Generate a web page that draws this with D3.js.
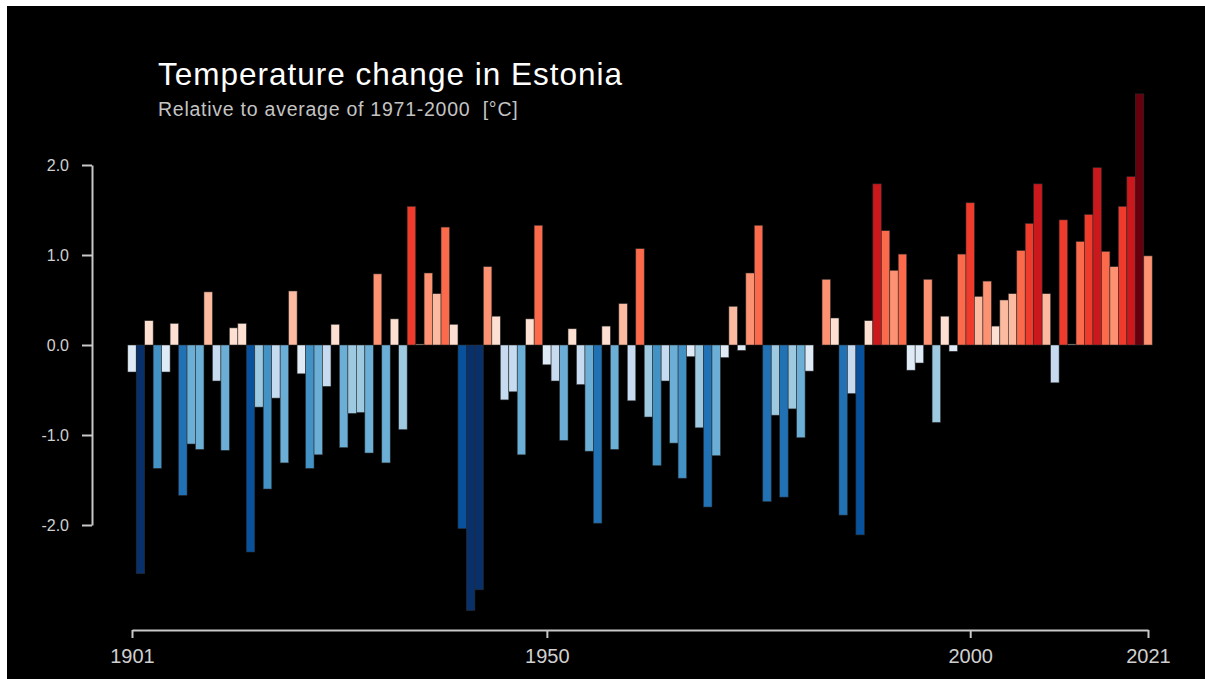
<!DOCTYPE html>
<html>
<head>
<meta charset="utf-8">
<script src="https://cdn.jsdelivr.net/npm/d3@7"></script>
<style>
  html, body { margin: 0; padding: 0; background: #ffffff; }
  svg { display: block; }
  text { font-family: "Liberation Sans", Arial, Helvetica, sans-serif; }
</style>
</head>
<body>
<svg id="chart" width="1205" height="679"></svg>
<script>
// ---- data ----
const firstYear = 1901;
const lastYear = 2021;
const years = d3.range(firstYear, lastYear + 1);
const anomalies = [
  -0.30, -2.54, 0.27, -1.37, -0.30, 0.24, -1.67, -1.10, -1.16, 0.59,   // 1901-1910
  -0.40, -1.17, 0.19, 0.24, -2.30, -0.69, -1.60, -0.59, -1.31, 0.60,   // 1911-1920
  -0.32, -1.37, -1.22, -0.46, 0.23, -1.14, -0.76, -0.75, -1.20, 0.79,  // 1921-1930
  -1.31, 0.29, -0.94, 1.54, 0.01, 0.80, 0.57, 1.31, 0.23, -2.04,       // 1931-1940
  -2.95, -2.72, 0.87, 0.32, -0.61, -0.52, -1.22, 0.29, 1.33, -0.22,    // 1941-1950
  -0.40, -1.06, 0.18, -0.44, -1.18, -1.98, 0.21, -1.16, 0.46, -0.62,   // 1951-1960
  1.07, -0.80, -1.34, -0.40, -1.09, -1.48, -0.13, -0.92, -1.80, -1.23, // 1961-1970
  -0.14, 0.43, -0.06, 0.80, 1.33, -1.74, -0.78, -1.69, -0.71, -1.03,   // 1971-1980
  -0.29, 0.00, 0.73, 0.30, -1.89, -0.54, -2.11, 0.27, 1.79, 1.27,      // 1981-1990
  0.83, 1.01, -0.28, -0.20, 0.73, -0.86, 0.32, -0.07, 1.01, 1.58,      // 1991-2000
  0.54, 0.71, 0.21, 0.50, 0.57, 1.05, 1.35, 1.79, 0.57, -0.42,         // 2001-2010
  1.39, 0.01, 1.15, 1.45, 1.97, 1.04, 0.87, 1.54, 1.87, 2.79,          // 2011-2020
  0.99                                                                 // 2021
];
const xTickYears = [1901, 1950, 2000, 2021];
const yTickValues = [-2, -1, 0, 1, 2];
const titleText = "Temperature change in Estonia";
const subtitleText = "Relative to average of 1971-2000  [°C]";

// colour classes (steps of 1/3 °C)
const colorThresholds = [-7/3, -2, -5/3, -4/3, -1, -2/3, -1/3, 0, 1/3, 2/3, 1, 4/3, 5/3, 2, 7/3];
const palette = ["#08306b", "#08519c", "#2171b5", "#4292c6", "#6baed6", "#9ecae1", "#c6dbef", "#deebf7",
                 "#fee0d2", "#fcbba1", "#fc9272", "#fb6a4a", "#ef3b2c", "#cb181d", "#a50f15", "#67000d"];

const data = years.map((y, i) => ({ year: y, value: anomalies[i] }));

// ---- drawing ----
const svg = d3.select("#chart");
const W = 1205, H = 679;

svg.append("rect").attr("x", 0).attr("y", 0).attr("width", W).attr("height", H).attr("fill", "#ffffff");
svg.append("rect").attr("x", 7).attr("y", 6).attr("width", W - 7).attr("height", H - 6).attr("fill", "#000000");

const x = d3.scaleLinear().domain([firstYear, lastYear]).range([132, 1148]);
const y = d3.scaleLinear().domain([-2, 2]).range([525, 165]);
const color = d3.scaleThreshold().domain(colorThresholds).range(palette);

svg.append("g")
  .selectAll("rect")
  .data(data)
  .join("rect")
  .attr("x", d => x(d.year - 0.5))
  .attr("width", d => x(d.year + 0.5) - x(d.year - 0.5))
  .attr("y", d => Math.min(y(d.value), y(0)))
  .attr("height", d => Math.abs(y(d.value) - y(0)))
  .attr("fill", d => color(d.value))
  .attr("stroke", "rgba(45,45,45,0.9)")
  .attr("stroke-width", 0.6);

const axisColor = "#c8c8c8";

const gx = svg.append("g")
  .attr("transform", "translate(0,630)")
  .call(d3.axisBottom(x).tickValues(xTickYears).tickFormat(d3.format("d"))
        .tickSize(8).tickSizeOuter(0).tickPadding(11));
gx.select(".domain").attr("stroke", axisColor).attr("stroke-width", 2);
gx.selectAll(".tick line").attr("stroke", axisColor).attr("stroke-width", 2);
gx.selectAll(".tick text").attr("fill", "#d0d0d0").style("font-size", "20px")
  .style("font-family", "'Liberation Sans', Arial, sans-serif");

const gy = svg.append("g")
  .attr("transform", "translate(92,0)")
  .call(d3.axisLeft(y).tickValues(yTickValues).tickFormat(d => d.toFixed(1))
        .tickSize(10).tickSizeOuter(0).tickPadding(13));
gy.select(".domain").attr("stroke", axisColor).attr("stroke-width", 2);
gy.selectAll(".tick line").attr("stroke", axisColor).attr("stroke-width", 2);
gy.selectAll(".tick text").attr("fill", "#d0d0d0").style("font-size", "16px")
  .style("font-family", "'Liberation Sans', Arial, sans-serif");

svg.append("text")
  .attr("x", 158).attr("y", 85)
  .attr("fill", "#ffffff")
  .style("font-size", "31.5px")
  .style("letter-spacing", "1px")
  .text(titleText);

svg.append("text")
  .attr("x", 158).attr("y", 116)
  .attr("fill", "#c4c4c4")
  .style("font-size", "19.5px")
  .style("letter-spacing", "0.75px")
  .style("white-space", "pre")
  .text(subtitleText);
</script>
</body>
</html>
